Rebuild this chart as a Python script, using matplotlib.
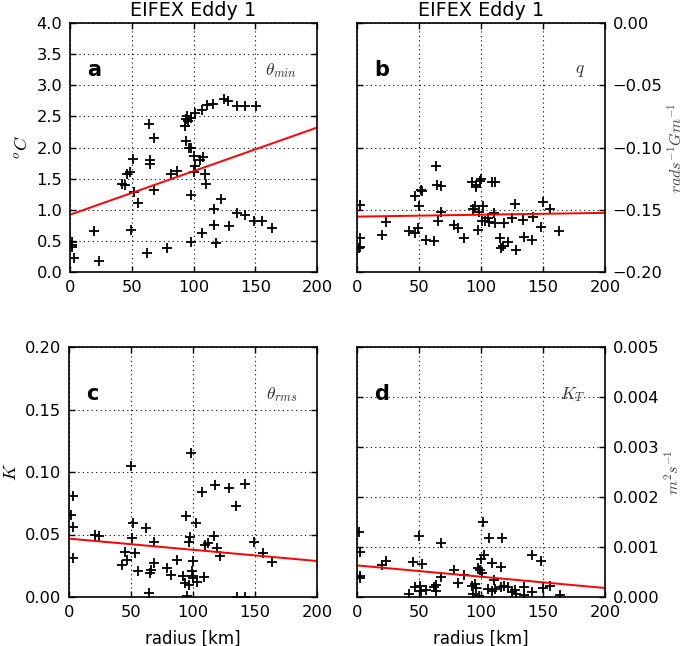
import matplotlib
matplotlib.use("Agg")
import matplotlib.pyplot as plt
import numpy as np

plt.rcParams['font.family'] = ['DejaVu Sans']
plt.rcParams['mathtext.fontset'] = 'cm'

# ---------------- data ----------------
title = "EIFEX Eddy 1"
xlabel = "radius [km]"

# panel a: theta_min [oC]
ra = [2, 2, 2, 3, 19.7, 23.8, 42.4, 44.6, 46, 48.6, 50.8, 52.2, 49.2, 55.4, 62.2,
      64.1, 64.9, 64.9, 68.4, 68.4, 78.9, 81.6, 87, 93.2, 94, 95.4, 94.6, 97.8, 94,
      96, 98, 98, 100, 98, 100, 101.4, 105.4, 107.6, 109.5, 110, 106.8, 101.4, 106.5,
      110.8, 115.7, 116.2, 117, 118.4, 122, 124.9, 127.8, 128.4, 135, 141.4, 150.8,
      135, 141.4, 148.6, 155.4, 163.5]
va = [0.48, 0.44, 0.40, 0.22, 0.66, 0.17, 1.41, 1.39, 1.57, 1.61, 1.81, 1.29, 0.68,
      1.11, 0.30, 2.38, 1.80, 1.74, 2.15, 1.32, 0.39, 1.58, 1.62, 2.35, 2.46, 2.43,
      2.50, 2.47, 2.11, 1.99, 2.00, 1.23, 1.86, 0.48, 1.61, 1.71, 1.80, 1.84, 1.57,
      1.42, 0.63, 2.56, 2.61, 2.68, 2.70, 1.01, 0.75, 0.47, 1.17, 2.78, 2.74, 0.74,
      2.67, 2.67, 2.67, 0.95, 0.92, 0.82, 0.82, 0.70]

# panel b: q [rad s-1 Gm-1]
rb = [2.2, 2.2, 1.3, 2.7, 20.5, 23.7, 42, 47, 46.6, 49.3, 49.8, 51.4, 52.8, 55.5,
      62.2, 64, 64.8, 65.4, 68.1, 68.1, 78.3, 81.6, 86.4, 93.1, 93.7, 95, 95.8, 96.3,
      97.7, 98.4, 99, 100.4, 100.8, 101.6, 103, 105.8, 106.6, 108.5, 110.4, 111.2,
      111.2, 115.2, 116, 117.4, 118.7, 121.4, 124.6, 127.8, 128, 134, 134.8, 141.3,
      142, 148.3, 150.2, 155.6, 163.1]
vb = [-0.146, -0.173, -0.181, -0.180, -0.170, -0.160, -0.167, -0.169, -0.139, -0.165,
      -0.147, -0.134, -0.135, -0.174, -0.175, -0.115, -0.130, -0.159, -0.131, -0.152,
      -0.162, -0.165, -0.173, -0.128, -0.149, -0.147, -0.130, -0.132, -0.166, -0.152,
      -0.127, -0.125, -0.159, -0.147, -0.159, -0.157, -0.160, -0.128, -0.153, -0.128,
      -0.161, -0.173, -0.181, -0.179, -0.161, -0.176, -0.157, -0.145, -0.182, -0.158,
      -0.172, -0.174, -0.156, -0.164, -0.144, -0.149, -0.167]

# panel c: theta_rms [K]
rc = [3, 1.9, 3.5, 3.5, 21, 24.2, 42.5, 45.2, 46.6, 49.8, 50.6, 52, 53.3, 56, 62.2,
      64.9, 65.4, 66, 68.6, 68.6, 78.9, 82, 86.9, 92.3, 94.5, 93.7, 95, 96.4, 96.4,
      97.7, 98.2, 99, 99.9, 100.4, 100.4, 102.3, 103, 107.1, 109, 109.8, 111.7, 116.6,
      117.9, 119.2, 121.9, 128.7, 134.9, 135.4, 141.6, 142, 148.9, 156.4, 163.7]
vc = [0.0805, 0.066, 0.056, 0.031, 0.050, 0.049, 0.026, 0.036, 0.030, 0.1045, 0.047,
      0.059, 0.035, 0.021, 0.055, 0.003, 0.019, 0.022, 0.044, 0.027, 0.023, 0.018,
      0.030, 0.017, 0.0645, 0.011, 0.001, 0.044, 0.010, 0.048, 0.1152, 0.021, 0.017,
      0.0285, 0.015, 0.059, 0.012, 0.084, 0.016, 0.042, 0.043, 0.0485, 0.0899, 0.039,
      0.033, 0.087, 0.073, 0.0, 0.0907, 0.0, 0.044, 0.035, 0.028]

# panel d: K_T [m2 s-1]
rd = [1.6, 2.7, 2.2, 2.2, 20.5, 23.7, 42, 45.2, 46.6, 49.8, 50.6, 52.8, 52, 55.5,
      62.2, 64, 64, 68.1, 68.1, 78.3, 81.6, 86.4, 93.1, 93.7, 95, 95.8, 97.7, 98.4,
      99, 100.4, 100.8, 101.6, 102.6, 105.8, 106.6, 108.5, 108.5, 110.4, 111.2, 115.8,
      116.6, 116, 118.7, 121.4, 124.6, 127.8, 128.6, 134.8, 134.8, 141.3, 141.3, 148.3,
      150.2, 155.6, 163.7]
vd = [0.00131, 0.00090, 0.00043, 0.00039, 0.00064, 0.00073, 0.00007, 0.00070, 0.00021,
      0.00123, 0.00023, 0.00066, 0.00013, 0.00015, 0.00021, 0.00025, 0.00012, 0.00108,
      0.00041, 0.00055, 0.00028, 0.00045, 0.00023, 0.00007, 0.00027, 0.00019, 0.00059,
      0.00003, 0.00055, 0.00076, 0.00048, 0.00150, 0.00085, 0.00017, 0.00118, 0.00068,
      0.00013, 0.00035, 0.00017, 0.00020, 0.00118, 0.00061, 0.00023, 0.00020, 0.00010,
      0.00015, 0.00007, 0.00020, 0.00005, 0.00010, 0.00084, 0.00072, 0.00018, 0.00023,
      0.00005]

# linear fits (value at r=0, value at r=200)
fit_a = [0.92, 2.32]
fit_b = [-0.1555, -0.1525]
fit_c = [0.0467, 0.0288]
fit_d = [0.000632, 0.00018]

panels = [
    dict(r=ra, v=va, fit=fit_a, ylim=(0, 4.0), yticks=np.arange(0, 4.01, 0.5),
         fmt="%.1f", letter="a", var=r"$\theta_{min}$", ylabel=r"$^oC$", right=False, title=True),
    dict(r=rb, v=vb, fit=fit_b, ylim=(-0.2, 0.0), yticks=np.arange(-0.2, 0.001, 0.05),
         fmt="%.2f", letter="b", var=r"$q$", ylabel=r"$rads^{-1}Gm^{-1}$", right=True, title=True),
    dict(r=rc, v=vc, fit=fit_c, ylim=(0, 0.2), yticks=np.arange(0, 0.201, 0.05),
         fmt="%.2f", letter="c", var=r"$\theta_{rms}$", ylabel=r"$K$", right=False, title=False),
    dict(r=rd, v=vd, fit=fit_d, ylim=(0, 0.005), yticks=np.arange(0, 0.00501, 0.001),
         fmt="%.3f", letter="d", var=r"$K_T$", ylabel=r"$m^2s^{-1}$", right=True, title=False),
]


def fmt_tick(fmt, t):
    s = fmt % t
    if float(s) == 0:
        s = s.lstrip("-")
    return s.replace("-", "\u2212")


W, H = 685, 646
fig = plt.figure(figsize=(W / 100, H / 100), dpi=100)

rects = [
    (70, 23, 247, 249), (357, 23, 248, 249),
    (69, 347, 248, 250), (357, 347, 248, 250),
]

for p, (x0, y0, w, h) in zip(panels, rects):
    ax = fig.add_axes([x0 / W, 1 - (y0 + h) / H, w / W, h / H])
    ax.plot(p["r"], p["v"], linestyle="none", marker="+", color="black",
            markersize=7, markeredgewidth=1.3)
    ax.plot([0, 200], p["fit"], color="red", linewidth=1.4)
    ax.set_xlim(0, 200)
    ax.set_ylim(*p["ylim"])
    ax.set_xticks([0, 50, 100, 150, 200])
    ax.set_yticks(p["yticks"])
    ax.set_yticklabels([fmt_tick(p["fmt"], t) for t in p["yticks"]])
    ax.grid(True, color="black", linestyle=(0, (1, 3)), linewidth=0.8)
    for s in ax.spines.values():
        s.set_linewidth(1.2)
    ax.tick_params(direction="in", length=4, width=1, labelsize=11.7,
                   top=True, right=True, left=True, bottom=True, pad=5.5)
    ax.text(0.07, 0.81, p["letter"], transform=ax.transAxes, fontsize=15,
            fontweight="bold", va="center", ha="left")
    ax.text(0.92, 0.81, p["var"], transform=ax.transAxes, fontsize=12.5,
            va="center", ha="right", color="#333333")
    if p["right"]:
        ax.yaxis.tick_right()
        ax.tick_params(axis="y", left=True, right=True, direction="in")
        ax.yaxis.set_label_position("right")
        ax.set_ylabel(p["ylabel"], fontsize=11.5, color="#444444", labelpad=3)
    else:
        ax.set_ylabel(p["ylabel"], fontsize=13, labelpad=4)
    if p["title"]:
        ax.set_title(title, fontsize=13.8, pad=5)
    else:
        ax.set_xlabel(xlabel, fontsize=12, labelpad=7)

fig.savefig("out.png", dpi=100)
